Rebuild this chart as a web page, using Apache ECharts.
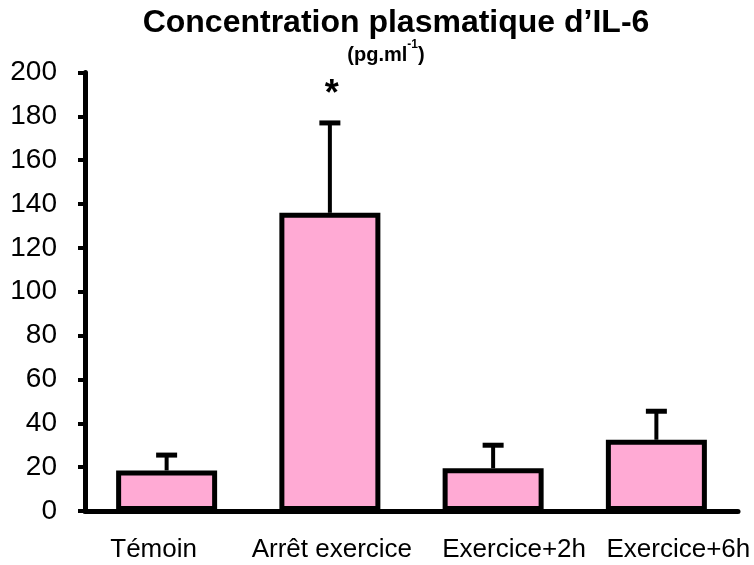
<!DOCTYPE html>
<html>
<head>
<meta charset="utf-8">
<script src="https://cdn.jsdelivr.net/npm/echarts@6/dist/echarts.min.js"></script>
<style>
  html, body { margin: 0; padding: 0; background: #fff; }
  #chart { width: 754px; height: 565px; }
</style>
</head>
<body>
<div id="chart"></div>
<script>
// Plasma IL-6 concentration (pg/ml), mean + SEM per condition
const categories = ['Témoin', 'Arrêt exercice', 'Exercice+2h', 'Exercice+6h'];
const means = [18.5, 136, 19.5, 32.5];
const sems = [7, 41, 10.5, 13];
const significance = ['', '*', '', ''];
const yTicks = { min: 0, max: 200, interval: 20 };

const FONT = '"Liberation Sans", Arial, sans-serif';
// horizontal nudge of each category label (px), as laid out in the original sheet
const labelShift = [-13, 2, 21, 22];

const labelRich = {};
labelShift.forEach((dx, i) => {
  labelRich['c' + i] = {
    fontFamily: FONT, fontSize: 26, color: '#000',
    padding: dx >= 0 ? [0, 0, 0, 2 * dx] : [0, -2 * dx, 0, 0]
  };
});

const chart = echarts.init(document.getElementById('chart'));

chart.setOption({
  animation: false,
  backgroundColor: '#fff',
  title: {
    text: '{t|Concentration plasmatique d’IL-6}\n{u|(pg.ml}{s|-1}{p|)}',
    left: 391,
    textAlign: 'center',
    top: 2,
    textStyle: {
      fontFamily: FONT,
      rich: {
        t: { fontFamily: FONT, fontSize: 32, fontWeight: 'bold', color: '#000', lineHeight: 32 },
        u: { fontFamily: FONT, fontSize: 20, fontWeight: 'bold', color: '#000', lineHeight: 26, verticalAlign: 'bottom' },
        p: { fontFamily: FONT, fontSize: 20, fontWeight: 'bold', color: '#000', lineHeight: 26, verticalAlign: 'bottom', padding: [0, 20, 0, 0] },
        s: { fontFamily: FONT, fontSize: 12, fontWeight: 'bold', color: '#000', lineHeight: 26, verticalAlign: 'top', padding: [0, 0, 6, 0] }
      }
    }
  },
  grid: { left: 85, right: 16, top: 72.5, bottom: 54 },
  xAxis: {
    type: 'category',
    data: categories,
    axisLine: { lineStyle: { color: '#000', width: 5 } },
    axisTick: { show: false },
    axisLabel: {
      interval: 0,
      hideOverlap: false,
      color: '#000', fontFamily: FONT, fontSize: 26, margin: 26,
      formatter: function (value, index) { return '{c' + index + '|' + value + '}'; },
      rich: labelRich
    }
  },
  yAxis: {
    type: 'value',
    min: yTicks.min,
    max: yTicks.max,
    interval: yTicks.interval,
    splitLine: { show: false },
    axisLine: { show: true, lineStyle: { color: '#000', width: 5 } },
    axisTick: { show: true, length: 7, lineStyle: { color: '#000', width: 4 } },
    axisLabel: { color: '#000', fontFamily: FONT, fontSize: 28, margin: 28 }
  },
  series: [
    {
      type: 'bar',
      data: means,
      barWidth: 101,
      itemStyle: { color: '#FFAAD4', borderColor: '#000', borderWidth: 5 },
      z: 2
    },
    {
      type: 'custom',
      data: means.map((m, i) => [i, m, m + sems[i]]),
      z: 3,
      renderItem: function (params, api) {
        const i = api.value(0);
        const base = api.coord([i, api.value(1)]);
        const top = api.coord([i, api.value(2)]);
        const half = 10.5;
        const children = [
          { type: 'line', shape: { x1: base[0], y1: base[1], x2: top[0], y2: top[1] },
            style: { stroke: '#000', lineWidth: 4 } },
          { type: 'line', shape: { x1: top[0] - half, y1: top[1], x2: top[0] + half, y2: top[1] },
            style: { stroke: '#000', lineWidth: 5 } }
        ];
        const mark = significance[params.dataIndex];
        if (mark) {
          children.push({
            type: 'text',
            x: top[0] + 2,
            y: top[1] - 28,
            style: { text: mark, fontFamily: FONT, fontSize: 36, fontWeight: 'bold',
                     fill: '#000', align: 'center', verticalAlign: 'middle' }
          });
        }
        return { type: 'group', children: children };
      }
    }
  ]
});
</script>
</body>
</html>
